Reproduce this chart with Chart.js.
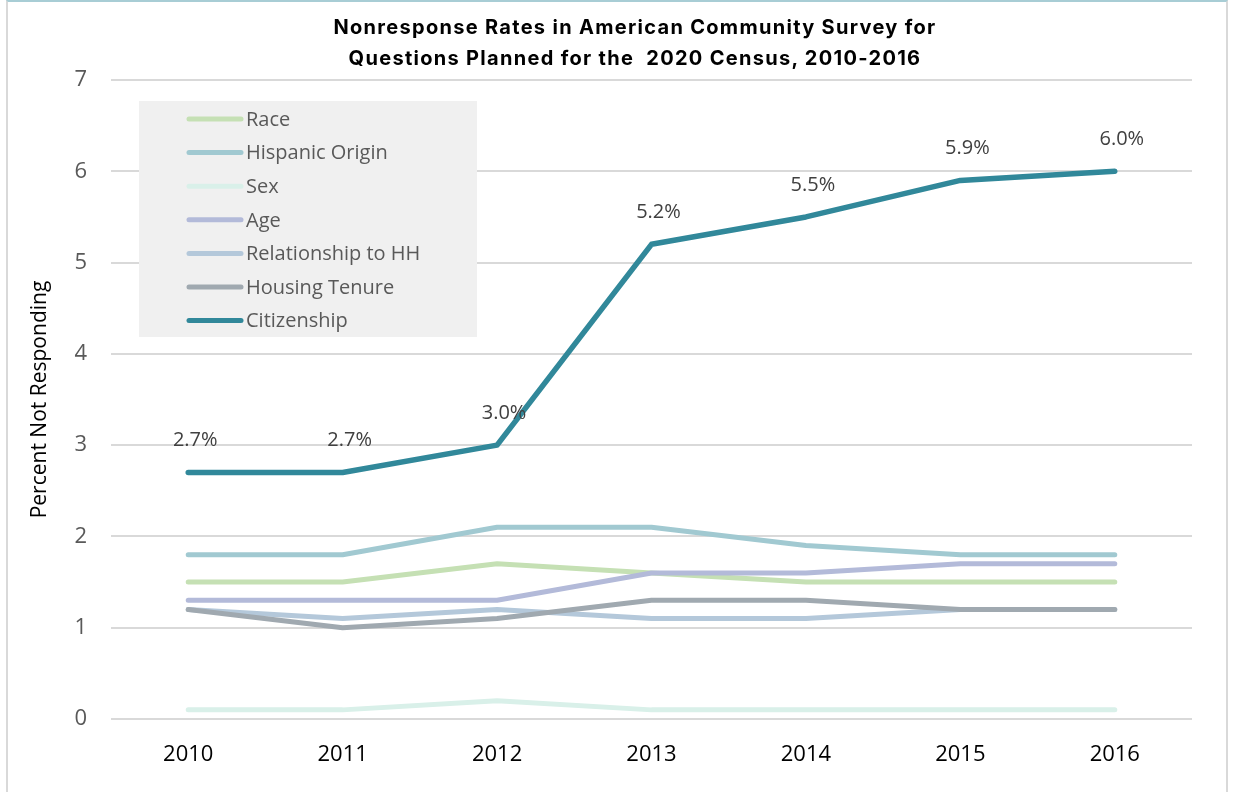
<!DOCTYPE html>
<html>
<head>
<meta charset="utf-8">
<script src="https://cdn.jsdelivr.net/npm/chart.js@4"></script>
<style>
  body { margin: 0; background: #fff; }
  #wrap { position: relative; width: 1235px; height: 792px; }
  #frame { position: absolute; left: 6px; top: 0; width: 1222px; height: 792px;
           border-left: 2px solid #d9d9d9; border-right: 2px solid #d9d9d9;
           border-top: 2px solid #a8cdd5; box-sizing: border-box; }
  #title { position: absolute; left: 35px; top: 12px; width: 1200px; text-align: center;
           font-family: Inter, sans-serif; font-weight: 700; font-size: 20px; letter-spacing: 1.3px;
           line-height: 31px; color: #000; }
  canvas { position: absolute; left: 0; top: 0; }
</style>
</head>
<body>
<div id="wrap">
  <div id="frame"></div>
  <canvas id="lineChart" width="1235" height="792"></canvas>
  <div id="title">Nonresponse Rates in American Community Survey for<br>Questions Planned for the&nbsp; 2020 Census, 2010-2016</div>
</div>
<script>
// chart data
const years = ['2010', '2011', '2012', '2013', '2014', '2015', '2016'];
const seriesNames = ['Race', 'Hispanic Origin', 'Sex', 'Age', 'Relationship to HH', 'Housing Tenure', 'Citizenship'];
const race = [1.5, 1.5, 1.7, 1.6, 1.5, 1.5, 1.5];
const hispanicOrigin = [1.8, 1.8, 2.1, 2.1, 1.9, 1.8, 1.8];
const sex = [0.1, 0.1, 0.2, 0.1, 0.1, 0.1, 0.1];
const age = [1.3, 1.3, 1.3, 1.6, 1.6, 1.7, 1.7];
const relationship = [1.2, 1.1, 1.2, 1.1, 1.1, 1.2, 1.2];
const housingTenure = [1.2, 1.0, 1.1, 1.3, 1.3, 1.2, 1.2];
const citizenship = [2.7, 2.7, 3.0, 5.2, 5.5, 5.9, 6.0];
const yTicks = [0, 1, 2, 3, 4, 5, 6, 7];

const seriesValues = [race, hispanicOrigin, sex, age, relationship, housingTenure, citizenship];
const colors = ['#c5e0b4', '#a1c9d1', '#d9f0e9', '#b3bad9', '#b4c8da', '#a0a9b0', '#31889a'];

// labels above the citizenship line
const valueLabels = {
    id: 'valueLabels',
    afterDatasetsDraw(chart) {
        const idx = seriesNames.indexOf('Citizenship');
        const meta = chart.getDatasetMeta(idx);
        const c = chart.ctx;
        c.save();
        c.font = '20px "Open Sans"';
        c.fillStyle = '#404040';
        c.textAlign = 'center';
        c.textBaseline = 'middle';
        meta.data.forEach((pt, i) => {
            c.fillText(citizenship[i].toFixed(1) + '%', pt.x + 7, pt.y - 32);
        });
        c.restore();
    }
};

// legend box inside the plot
const boxLegend = {
    id: 'boxLegend',
    afterDraw(chart) {
        const { left, top } = chart.chartArea;
        const c = chart.ctx;
        const x = left + 28, y = top + 21;
        c.save();
        c.fillStyle = '#f0f0f0';
        c.fillRect(x, y, 338, 236);
        c.font = '20px "Open Sans"';
        c.textBaseline = 'middle';
        c.lineCap = 'round';
        c.lineWidth = 5;
        seriesNames.forEach((name, i) => {
            const ry = y + 18 + i * 33.6;
            c.strokeStyle = colors[i];
            c.beginPath();
            c.moveTo(x + 50, ry);
            c.lineTo(x + 102, ry);
            c.stroke();
            c.fillStyle = '#595959';
            c.fillText(name, x + 107, ry + 1);
        });
        c.restore();
    }
};

document.addEventListener('DOMContentLoaded', function () {
    const ctx = document.getElementById('lineChart').getContext('2d');

    new Chart(ctx, {
        type: 'line',
        data: {
            labels: years,
            datasets: seriesNames.map((name, i) => ({
                label: name,
                data: seriesValues[i],
                borderColor: colors[i],
                backgroundColor: colors[i],
                borderWidth: name === 'Citizenship' ? 5.5 : 5,
                borderCapStyle: 'round',
                borderJoinStyle: 'round',
                pointRadius: 0,
                tension: 0,
                order: seriesNames.length - i
            }))
        },
        options: {
            responsive: false,
            animation: false,
            devicePixelRatio: 1,
            layout: { padding: { left: 14, right: 43, top: 80, bottom: 0 } },
            plugins: {
                legend: { display: false },
                title: { display: false },
                tooltip: { enabled: false }
            },
            scales: {
                x: {
                    offset: true,
                    grid: { display: false, drawTicks: false },
                    border: { display: false },
                    ticks: {
                        color: '#000',
                        padding: 23,
                        maxRotation: 0,
                        font: { family: 'Open Sans', size: 22 }
                    },
                    afterFit(scale) { scale.height = 73; }
                },
                y: {
                    min: 0,
                    max: 7,
                    afterBuildTicks(scale) { scale.ticks = yTicks.map(v => ({ value: v })); },
                    grid: { color: '#d9d9d9', lineWidth: 2, drawTicks: false },
                    border: { display: false },
                    ticks: {
                        color: '#595959',
                        padding: 24,
                        font: { family: 'Open Sans', size: 22 }
                    },
                    title: {
                        display: true,
                        text: 'Percent Not Responding',
                        color: '#000',
                        padding: { top: 13, bottom: 0 },
                        font: { family: 'Open Sans', size: 21 }
                    },
                    afterFit(scale) { scale.width = 97; }
                }
            }
        },
        plugins: [valueLabels, boxLegend]
    });
});
</script>
</body>
</html>
